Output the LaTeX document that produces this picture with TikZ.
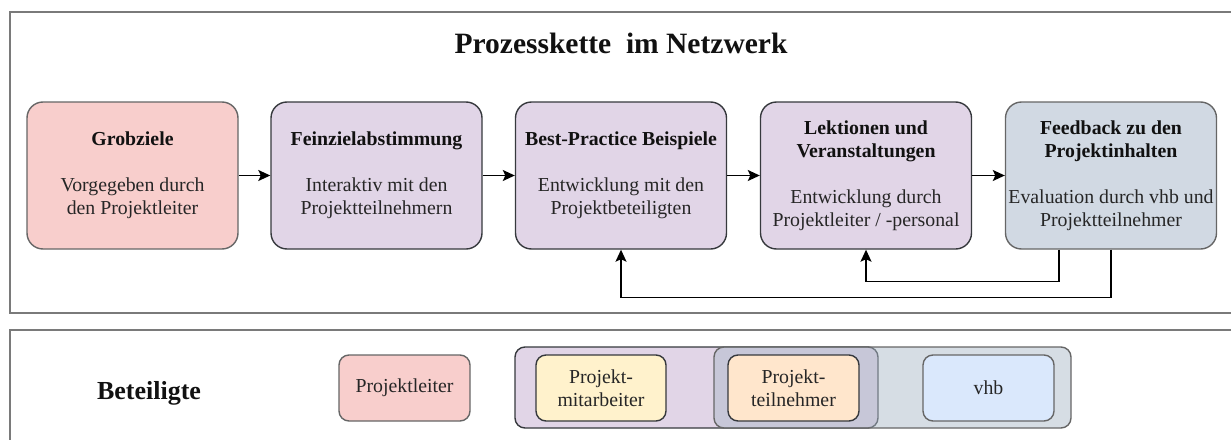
\documentclass[tikz,border=0pt]{standalone}
\usepackage{fontspec}
\setmainfont{Liberation Serif}
\usetikzlibrary{arrows.meta}
\definecolor{pinkF}{HTML}{F8CECC}
\definecolor{purpF}{HTML}{E1D5E7}
\definecolor{greyF}{HTML}{D1D9E3}
\definecolor{yellF}{HTML}{FFF2CC}
\definecolor{oranF}{HTML}{FFE6CC}
\definecolor{blueF}{HTML}{DAE8FC}
\definecolor{contG}{RGB}{174,187,202}
\definecolor{strD}{HTML}{36393D}
\definecolor{strG}{HTML}{666666}
\definecolor{frameC}{HTML}{7A7A7A}
\definecolor{txtB}{HTML}{111111}
\definecolor{txtG}{HTML}{262626}
\tikzset{
  bigbox/.style={draw, line width=1.4pt, rounded corners=16pt, minimum width=211pt, minimum height=147pt,
    align=center, text=txtG, font=\rmfamily\fontsize{19.8}{23}\selectfont, inner sep=1pt},
  smallbox/.style={draw, line width=1.4pt, rounded corners=10pt, minimum width=131pt, minimum height=66pt,
    align=center, text=txtG, font=\rmfamily\fontsize{19.8}{22.5}\selectfont, inner sep=1pt},
  flow/.style={line width=1.4pt, black, -{Stealth[length=12pt,width=11pt,inset=2.5pt]}},
  frame/.style={draw=frameC, line width=1.3pt}
}
\newcommand{\ttl}[1]{\textbf{\color{txtB}#1}}
\begin{document}
\begin{tikzpicture}[x=1pt,y=-1pt]
\useasboundingbox (0,0) rectangle (1231,439);
\clip (0,0) rectangle (1231,439);
% frames
\draw[frame] (10,12) rectangle (1260,313);
\draw[frame] (10,330) rectangle (1260,470);
% title
\node[anchor=base, text=txtB, font=\rmfamily\fontsize{29.5}{33}\selectfont\bfseries] (title) at (621,53) {Prozesskette\ \ im Netzwerk};
% process boxes
\node[bigbox, fill=pinkF, draw=strG] (b1) at (132.5,175.5) {\ttl{Grobziele}\\[23pt]Vorgegeben durch\\den Projektleiter};
\node[bigbox, fill=purpF, draw=strD] (b2) at (376.5,175.5) {\ttl{Feinzielabstimmung}\\[23pt]Interaktiv mit den\\Projektteilnehmern};
\node[bigbox, fill=purpF, draw=strD] (b3) at (621,175.5) {\ttl{Best-Practice Beispiele}\\[23pt]Entwicklung mit den\\Projektbeteiligten};
\node[bigbox, fill=purpF, draw=strD] (b4) at (866,175.5) {\ttl{Lektionen und}\\\ttl{Veranstaltungen}\\[23pt]Entwicklung durch\\Projektleiter / -personal};
\node[bigbox, fill=greyF, draw=strG] (b5) at (1111,175.5) {\ttl{Feedback zu den}\\\ttl{Projektinhalten}\\[23pt]Evaluation durch vhb und\\Projektteilnehmer};
% chain arrows
\draw[flow] (b1.east) -- (b2.west);
\draw[flow] (b2.east) -- (b3.west);
\draw[flow] (b3.east) -- (b4.west);
\draw[flow] (b4.east) -- (b5.west);
% feedback arrows
\coordinate (f1) at ([xshift=-52pt]b5.south);
\draw[flow] (f1) -- ++(0,32) -| (b4.south);
\draw[flow] (b5.south) -- ++(0,48) -| (b3.south);
% participants
\node[anchor=base, text=txtB, font=\rmfamily\fontsize{26}{30}\selectfont\bfseries] (bet) at (149,399) {Beteiligte};
\node[smallbox, fill=pinkF, draw=strG] (pl) at (404.5,388) {Projektleiter};
\draw[draw=strD, fill=purpF, line width=1.4pt, rounded corners=10pt] (515,347) rectangle (878,428);
\node[smallbox, fill=yellF, draw=strD, minimum width=130pt] (pm) at (601,388) {Projekt-\\mitarbeiter};
\draw[draw=strG, fill=contG, fill opacity=0.5, line width=1.4pt, rounded corners=10pt] (714,347) rectangle (1071,428);
\node[smallbox, fill=oranF, draw=strD] (pt) at (793.5,388) {Projekt-\\teilnehmer};
\node[smallbox, fill=blueF, draw=strG] (vhb) at (988.5,388) {vhb};
\end{tikzpicture}
\end{document}
